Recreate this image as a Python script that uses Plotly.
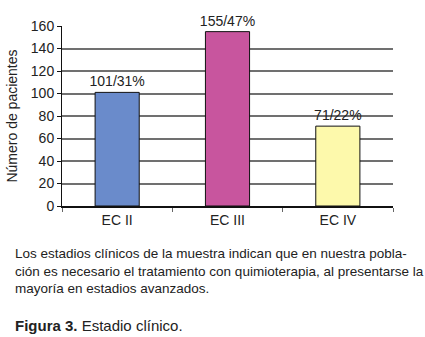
import plotly.graph_objects as go

categories = ["EC II", "EC III", "EC IV"]
values = [101, 155, 71]
labels = ["101/31%", "155/47%", "71/22%"]
colors = ["#6a8bcb", "#c8559e", "#fdf9ab"]
y_ticks = [0, 20, 40, 60, 80, 100, 120, 140, 160]

W, H = 425, 337
L, R, T, B = 60, 32, 26, 131

font = "Liberation Sans, Arial"
fig = go.Figure()
fig.add_trace(go.Bar(
    x=categories, y=values, text=labels, textposition="outside",
    constraintext="none",
    textfont=dict(family=font, size=14, color="#222"),
    marker=dict(color=colors, line=dict(color="#111", width=1)),
    cliponaxis=False, width=0.4,
))

fig.update_layout(
    width=W, height=H, margin=dict(l=L, r=R, t=T, b=B),
    paper_bgcolor="white", plot_bgcolor="white", showlegend=False,
    font=dict(family=font, size=14, color="#222"),
    xaxis=dict(showline=True, linecolor="#111", linewidth=2, ticks="outside",
               tickson="boundaries", ticklen=4, tickcolor="#666",
               tickfont=dict(size=14), showgrid=False),
    yaxis=dict(range=[0, 160], tickvals=y_ticks, showline=True, linecolor="#111",
               linewidth=1, ticks="outside", ticklen=4, tickcolor="#111",
               showgrid=True, gridcolor="#707070", gridwidth=1.5, zeroline=False,
               tickfont=dict(size=14),
               title=dict(text="Número de pacientes", font=dict(size=14), standoff=9)),
)

caption = ("Los estadios clínicos de la muestra indican que en nuestra pobla-<br>"
           "ción es necesario el tratamiento con quimioterapia, al presentarse la<br>"
           "mayoría en estadios avanzados.")
fig.add_annotation(text=caption, xref="paper", yref="paper", xanchor="left", yanchor="top",
                   x=-(L - 11) / (W - L - R), y=-(244 - (H - B)) / (H - T - B),
                   showarrow=False, align="left",
                   font=dict(family=font, size=13.5, color="#222"))
fig.add_annotation(text="<b>Figura 3.</b> Estadio clínico.", xref="paper", yref="paper",
                   xanchor="left", yanchor="top",
                   x=-(L - 11) / (W - L - R), y=-(315 - (H - B)) / (H - T - B),
                   showarrow=False, align="left",
                   font=dict(family=font, size=15, color="#222"))

fig.write_html("out.html", config={"displayModeBar": False},
               post_script="document.body.style.margin='0';")
